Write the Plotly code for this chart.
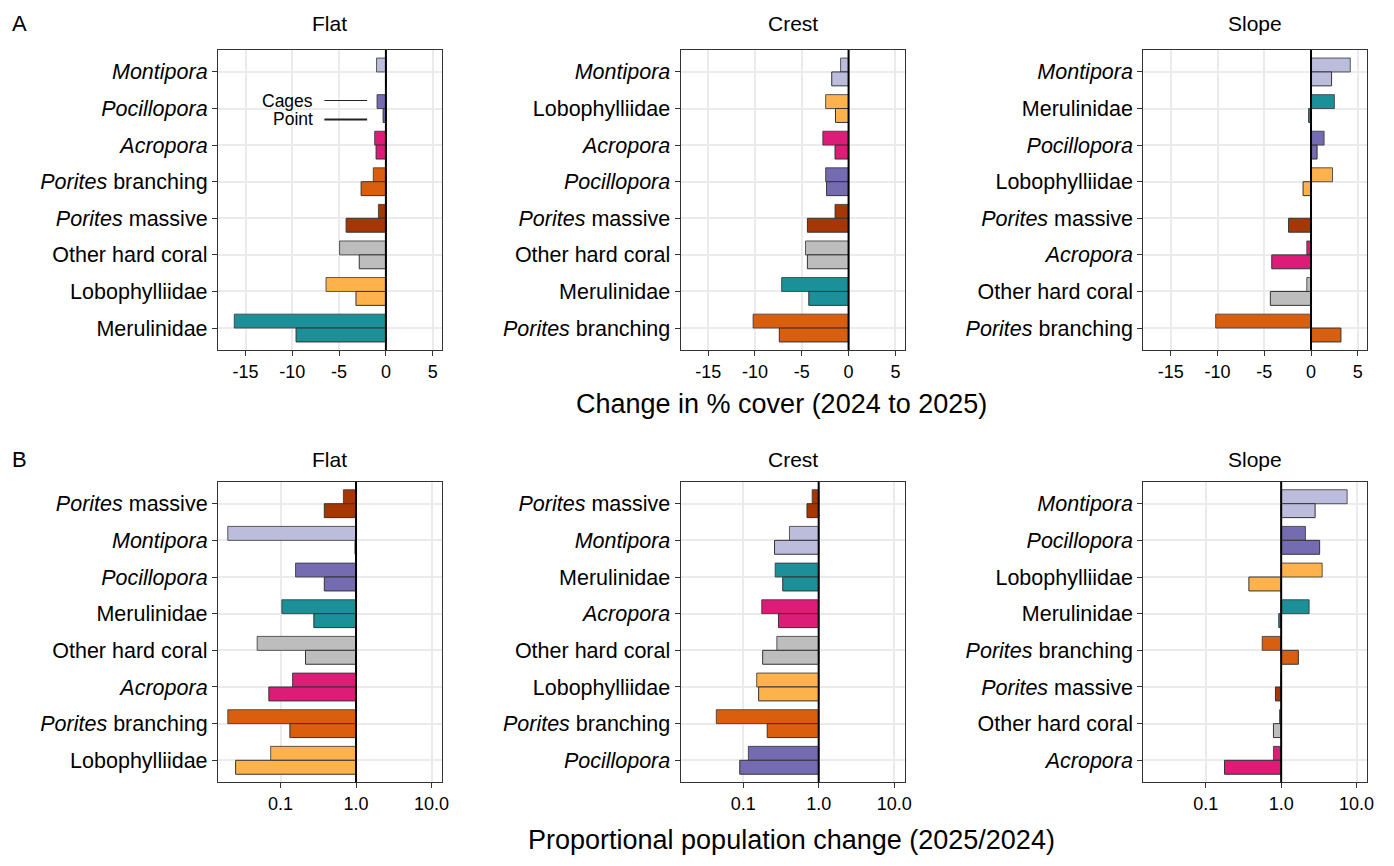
import plotly.graph_objects as go

# ---- data -------------------------------------------------------------
GROUP_COLORS = {
    "Montipora": "#BCBDDC",
    "Pocillopora": "#756BB1",
    "Acropora": "#DD1C77",
    "Porites branching": "#D95F0E",
    "Porites massive": "#A63603",
    "Other hard coral": "#BDBDBD",
    "Lobophylliidae": "#FEB24C",
    "Merulinidae": "#1C9099",
}
GROUP_LABELS = {
    "Montipora": "<i>Montipora</i>",
    "Pocillopora": "<i>Pocillopora</i>",
    "Acropora": "<i>Acropora</i>",
    "Porites branching": "<i>Porites</i> branching",
    "Porites massive": "<i>Porites</i> massive",
    "Other hard coral": "Other hard coral",
    "Lobophylliidae": "Lobophylliidae",
    "Merulinidae": "Merulinidae",
}
zones = ["Flat", "Crest", "Slope"]

# A: change in % cover (2024 to 2025), groups listed top to bottom
cover_order = {
    "Flat": ["Montipora", "Pocillopora", "Acropora", "Porites branching",
             "Porites massive", "Other hard coral", "Lobophylliidae", "Merulinidae"],
    "Crest": ["Montipora", "Lobophylliidae", "Acropora", "Pocillopora",
              "Porites massive", "Other hard coral", "Merulinidae", "Porites branching"],
    "Slope": ["Montipora", "Merulinidae", "Pocillopora", "Lobophylliidae",
              "Porites massive", "Acropora", "Other hard coral", "Porites branching"],
}
cover_cages = {
    "Flat": [-1.0, -0.95, -1.2, -1.35, -0.8, -4.95, -6.4, -16.2],
    "Crest": [-0.85, -2.45, -2.75, -2.45, -1.45, -4.6, -7.15, -10.2],
    "Slope": [4.2, 2.5, 1.4, 2.3, 0.0, -0.45, -0.45, -10.2],
}
cover_point = {
    "Flat": [0.0, -0.3, -1.05, -2.65, -4.25, -2.85, -3.2, -9.6],
    "Crest": [-1.8, -1.4, -1.45, -2.35, -4.4, -4.4, -4.25, -7.4],
    "Slope": [2.2, -0.25, 0.65, -0.85, -2.4, -4.2, -4.35, 3.2],
}

# B: proportional population change (2025/2024)
pop_order = {
    "Flat": ["Porites massive", "Montipora", "Pocillopora", "Merulinidae",
             "Other hard coral", "Acropora", "Porites branching", "Lobophylliidae"],
    "Crest": ["Porites massive", "Montipora", "Merulinidae", "Acropora",
              "Other hard coral", "Lobophylliidae", "Porites branching", "Pocillopora"],
    "Slope": ["Montipora", "Pocillopora", "Lobophylliidae", "Merulinidae",
              "Porites branching", "Porites massive", "Other hard coral", "Acropora"],
}
pop_cages = {
    "Flat": [0.68, 0.020, 0.158, 0.104, 0.049, 0.144, 0.020, 0.074],
    "Crest": [0.82, 0.41, 0.265, 0.176, 0.279, 0.151, 0.044, 0.117],
    "Slope": [7.5, 2.1, 3.5, 2.35, 0.56, 1.0, 0.95, 0.79],
}
pop_point = {
    "Flat": [0.38, 0.97, 0.38, 0.276, 0.214, 0.070, 0.133, 0.0254],
    "Crest": [0.70, 0.26, 0.334, 0.293, 0.181, 0.160, 0.208, 0.090],
    "Slope": [2.82, 3.24, 0.373, 0.93, 1.69, 0.84, 0.79, 0.177],
}

cover_ticks = [-15, -10, -5, 0, 5]
pop_ticks = [0.1, 1.0, 10.0]
pop_ticktext = ["0.1", "1.0", "10.0"]

# ---- layout geometry (pixels) ----------------------------------------
W, H = 1394, 866
panel_x = {"Flat": (219, 444.3), "Crest": (684, 909.3), "Slope": (1149, 1374)}
row_y = {"A": (50, 350), "B": (481.7, 782.3)}

FONT = "Liberation Sans, Arial, Helvetica, sans-serif"
INK = "#000000"
FRAME = "#333333"
GRID = "#EBEBEB"


def xdom(px):
    return [px[0] / W, px[1] / W]


def ydom(py):
    return [1 - py[1] / H, 1 - py[0] / H]


fig = go.Figure()
layout = dict(
    width=W, height=H,
    margin=dict(l=0, r=0, t=0, b=0),
    paper_bgcolor="white", plot_bgcolor="white",
    showlegend=False, barmode="overlay",
    font=dict(family=FONT, color=INK),
)
shapes, annotations = [], []

BAR_W = 0.38
axis_n = 0
for row in ["A", "B"]:
    for zone in zones:
        axis_n += 1
        xa = "x" if axis_n == 1 else f"x{axis_n}"
        ya = "y" if axis_n == 1 else f"y{axis_n}"
        xkey = "xaxis" if axis_n == 1 else f"xaxis{axis_n}"
        ykey = "yaxis" if axis_n == 1 else f"yaxis{axis_n}"

        if row == "A":
            order = cover_order[zone]
            series = [(cover_cages[zone], -BAR_W, 0.8), (cover_point[zone], 0.0, 1.0)]
        else:
            order = pop_order[zone]
            series = [(pop_cages[zone], -BAR_W, 0.8), (pop_point[zone], 0.0, 1.0)]
        colors = [GROUP_COLORS[g] for g in order]

        for vals, off, lw in series:
            if row == "A":
                fig.add_trace(go.Bar(
                    x=vals, y=order, orientation="h",
                    width=BAR_W, offset=off,
                    marker=dict(color=colors, line=dict(color=FRAME, width=lw)),
                    xaxis=xa, yaxis=ya, hoverinfo="x+y",
                ))
            else:
                # ratios drawn on a log axis from the no-change baseline of 1
                fig.add_trace(go.Bar(
                    x=[v - 1.0 for v in vals], base=1.0, y=order, orientation="h",
                    width=BAR_W, offset=off,
                    marker=dict(color=colors, line=dict(color=FRAME, width=lw)),
                    xaxis=xa, yaxis=ya, customdata=vals,
                    hovertemplate="%{y}: %{customdata}<extra></extra>",
                ))

        common_x = dict(
            domain=xdom(panel_x[zone]), anchor=ya,
            showline=True, mirror=True, linecolor=FRAME, linewidth=1,
            showgrid=True, gridcolor=GRID, gridwidth=1.5, zeroline=False,
            ticks="outside", ticklen=5, tickwidth=1, tickcolor=FRAME,
            tickfont=dict(size=18, color=INK, family=FONT),
        )
        if row == "A":
            layout[xkey] = dict(common_x, range=[-17.95, 6.0], tickmode="array",
                                tickvals=cover_ticks,
                                ticktext=[str(t) for t in cover_ticks])
            zero = 0
        else:
            layout[xkey] = dict(common_x, type="log", range=[-1.83, 1.14],
                                tickmode="array", tickvals=pop_ticks,
                                ticktext=pop_ticktext)
            zero = 1
        layout[ykey] = dict(
            domain=ydom(row_y[row]), anchor=xa, type="category",
            categoryorder="array", categoryarray=order,
            range=[len(order) - 0.4, -0.6],
            tickmode="array", tickvals=order,
            ticktext=[GROUP_LABELS[g] for g in order],
            showline=True, mirror=True, linecolor=FRAME, linewidth=1,
            showgrid=True, gridcolor=GRID, gridwidth=1.5, zeroline=False,
            ticks="outside", ticklen=5, tickwidth=1, tickcolor=FRAME,
            tickfont=dict(size=21.5, color=INK, family=FONT),
        )

        # vertical reference line at no change
        shapes.append(dict(
            type="line", xref=xa, yref=f"{ya} domain",
            x0=zero, x1=zero, y0=0, y1=1,
            line=dict(color="black", width=2), layer="above",
        ))

        # facet strip title
        x0, x1 = panel_x[zone]
        ty = 23 if row == "A" else 459
        annotations.append(dict(
            text=zone, x=(x0 + x1) / 2 / W, y=1 - ty / H,
            xref="paper", yref="paper", showarrow=False,
            xanchor="center", yanchor="middle",
            font=dict(size=21, color=INK, family=FONT),
        ))

# panel tags
for tag, ty in [("A", 23), ("B", 460)]:
    annotations.append(dict(
        text=tag, x=10 / W, y=1 - ty / H, xref="paper", yref="paper",
        showarrow=False, xanchor="left", yanchor="middle",
        font=dict(size=22, color=INK, family=FONT),
    ))

# axis titles
annotations.append(dict(
    text="Change in % cover (2024 to 2025)", x=785 / W, y=1 - 404 / H,
    xref="paper", yref="paper", showarrow=False,
    xanchor="center", yanchor="middle",
    font=dict(size=27, color=INK, family=FONT),
))
annotations.append(dict(
    text="Proportional population change (2025/2024)", x=795 / W, y=1 - 840 / H,
    xref="paper", yref="paper", showarrow=False,
    xanchor="center", yanchor="middle",
    font=dict(size=27, color=INK, family=FONT),
))

# survey-method key inside the Flat cover panel
for label, ky, lw in [("Cages", 100.5, 1.2), ("Point", 119.5, 2.2)]:
    annotations.append(dict(
        text=label, x=317 / W, y=1 - ky / H, xref="paper", yref="paper",
        showarrow=False, xanchor="right", yanchor="middle",
        font=dict(size=17.5, color=INK, family=FONT),
    ))
    shapes.append(dict(
        type="line", xref="paper", yref="paper",
        x0=326 / W, x1=369 / W, y0=1 - ky / H, y1=1 - ky / H,
        line=dict(color="#222222", width=lw),
    ))

layout["shapes"] = shapes
layout["annotations"] = annotations
fig.update_layout(**layout)

fig.write_html("out.html")
